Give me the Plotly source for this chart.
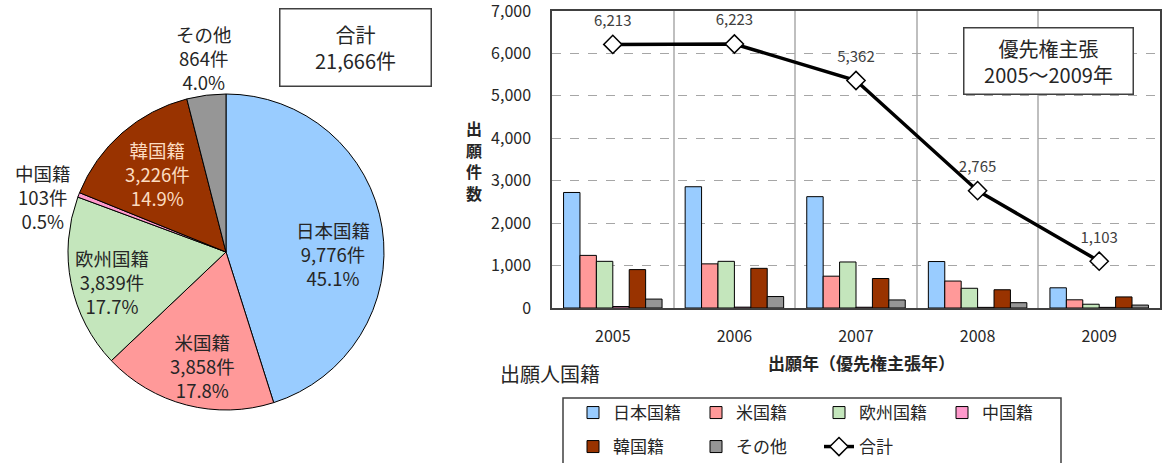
import plotly.graph_objects as go

# ---------------- data ----------------
years = ["2005", "2006", "2007", "2008", "2009"]
groups = ["日本国籍", "米国籍", "欧州国籍", "中国籍", "韓国籍", "その他"]
japan = [2723, 2858, 2624, 1095, 476]
usa = [1240, 1040, 750, 635, 193]
europe = [1100, 1100, 1085, 465, 89]
china = [35, 20, 18, 15, 15]
korea = [905, 935, 695, 430, 261]
other = [210, 270, 190, 125, 69]
totals = [6213, 6223, 5362, 2765, 1103]
total_label = "合計"
pie_values = [9776, 3858, 3839, 103, 3226, 864]
y_ticks = [0, 1000, 2000, 3000, 4000, 5000, 6000, 7000]
y_title = "出願件数"

# ---------------- styles ----------------
W, H = 1173, 463
FONT = "Noto Sans CJK JP"
colors = ["#99CCFF", "#FF9999", "#C4E6BC", "#FF99CC", "#993300", "#969696"]
series = [japan, usa, europe, china, korea, other]
legend_of = ["legend", "legend", "legend", "legend", "legend2", "legend2"]


def px(x):
    return x / W


def py(y):
    return 1 - y / H


fig = go.Figure()

# ---------------- pie ----------------
fig.add_trace(go.Pie(
    labels=groups, values=pie_values, sort=False, direction="clockwise",
    rotation=0, textinfo="none", showlegend=False, hoverinfo="label+value+percent",
    marker=dict(colors=colors, line=dict(color="#000000", width=1)),
    domain=dict(x=[px(68), px(384)], y=[py(410), py(94)]),
))

pie_total = sum(pie_values)
# label centres (layout only)
pie_label_pos = [(333, 254), (202, 366), (112, 282), (43, 197), (157, 174), (204, 58)]
pie_label_col = ["#262626", "#262626", "#262626", "#262626", "#FCDCC0", "#262626"]
for name, v, (lx, ly), c in zip(groups, pie_values, pie_label_pos, pie_label_col):
    fig.add_annotation(
        xref="paper", yref="paper", x=px(lx), y=py(ly), xanchor="center", yanchor="middle",
        text=f"{name}<br>{v:,}件<br>{v / pie_total * 100:.1f}%", showarrow=False,
        font=dict(family=FONT, size=18.5, color=c), align="center",
    )

fig.add_annotation(
    xref="paper", yref="paper", x=px(355.5), y=py(47.5), xanchor="center", yanchor="middle",
    text=f"{total_label}<br>{pie_total:,}件", showarrow=False, align="center",
    font=dict(family=FONT, size=20, color="#262626"),
    bordercolor="#404040", borderwidth=1.5, width=148, height=74, bgcolor="white",
)

# ---------------- bars ----------------
for name, vals, col, lg in zip(groups, series, colors, legend_of):
    fig.add_trace(go.Bar(
        x=years, y=vals, name=name, legend=lg,
        marker=dict(color=col, line=dict(color="#000000", width=1)),
        xaxis="x", yaxis="y",
    ))

fig.add_trace(go.Scatter(
    x=years, y=totals, name=total_label, legend="legend2", mode="lines+markers",
    line=dict(color="#000000", width=3.5),
    marker=dict(symbol="diamond", size=14, color="white", line=dict(color="#000000", width=1.5)),
    xaxis="x", yaxis="y",
))

# data labels above the total line
fig.add_trace(go.Scatter(
    x=years, y=totals, mode="markers+text", text=[f"{t:,}" for t in totals],
    textposition="top center", showlegend=False, hoverinfo="skip",
    marker=dict(size=22, color="rgba(0,0,0,0)"),
    textfont=dict(family=FONT, size=15, color="#404040"),
    xaxis="x", yaxis="y",
))

fig.add_annotation(
    xref="paper", yref="paper", x=px(1048.5), y=py(61), xanchor="center", yanchor="middle",
    text="優先権主張<br>2005～2009年", showarrow=False, align="center",
    font=dict(family=FONT, size=20, color="#262626"),
    bordercolor="#404040", borderwidth=1.5, width=166, height=63, bgcolor="white",
)

# vertical y-axis title, one character per line
for i, ch in enumerate(y_title):
    fig.add_annotation(
        xref="paper", yref="paper", x=px(474), y=py(128 + 21.5 * i), xanchor="center",
        yanchor="middle", text=f"<b>{ch}</b>", showarrow=False,
        font=dict(family=FONT, size=16, color="#262626"),
    )
fig.add_annotation(
    xref="paper", yref="paper", x=px(861), y=py(362), xanchor="center", yanchor="middle",
    text="<b>出願年（優先権主張年）</b>", showarrow=False,
    font=dict(family=FONT, size=17, color="#262626"),
)
fig.add_annotation(
    xref="paper", yref="paper", x=px(550), y=py(373), xanchor="center", yanchor="middle",
    text="出願人国籍", showarrow=False,
    font=dict(family=FONT, size=20, color="#262626"),
)

# legend frame
fig.add_shape(type="rect", xref="paper", yref="paper",
              x0=px(563), x1=px(1061), y0=py(480), y1=py(398),
              line=dict(color="#404040", width=1.5), fillcolor="rgba(0,0,0,0)", layer="below")

legend_common = dict(
    orientation="h", xanchor="left", yanchor="middle", entrywidth=78,
    font=dict(family=FONT, size=17, color="#262626"), bgcolor="rgba(0,0,0,0)",
    borderwidth=0, itemwidth=30, traceorder="normal",
)

fig.update_layout(
    width=W, height=H, margin=dict(l=0, r=0, t=0, b=0, autoexpand=False),
    paper_bgcolor="white", plot_bgcolor="white",
    font=dict(family=FONT, color="#262626"),
    barmode="group", bargap=0.19, bargroupgap=0,
    xaxis=dict(
        domain=[px(552), px(1160)], type="category", tickson="boundaries",
        categoryorder="array", categoryarray=years, range=[-0.5, len(years) - 0.5],
        showgrid=True, gridcolor="#BFBFBF", gridwidth=1.5, ticks="", automargin=False,
        showline=True, linecolor="#404040", linewidth=1.5, mirror=True,
        tickfont=dict(family=FONT, size=16, color="#262626"), ticklabelstandoff=13,
    ),
    yaxis=dict(
        domain=[py(308), py(11)], range=[0, 7000], tickvals=y_ticks,
        ticktext=[f"{v:,}" for v in y_ticks], ticklabeloverflow="allow", automargin=False,
        showgrid=True, gridcolor="#A6A6A6", griddash="dash", gridwidth=1.2,
        showline=True, linecolor="#404040", linewidth=1.5, mirror=True, ticks="",
        zeroline=False,
        tickfont=dict(family=FONT, size=16, color="#262626"), ticklabelstandoff=16,
    ),
    legend=dict(x=px(573), y=py(413), **legend_common),
    legend2=dict(x=px(573), y=py(447), **legend_common),
)

fig.write_html("out.html")
